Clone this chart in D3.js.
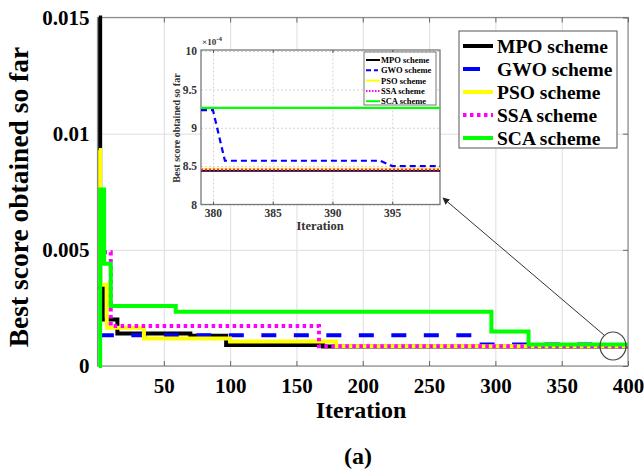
<!DOCTYPE html>
<html><head><meta charset="utf-8">
<script src="https://cdn.jsdelivr.net/npm/d3@7"></script>
<style>body{margin:0;background:#fff}svg{display:block}text{font-family:"Liberation Serif","Times New Roman",serif;font-weight:bold}</style>
</head><body>
<script>
// ---- data (main chart: [iteration, best score]) ----
const seriesNames = ["MPO scheme","GWO scheme","PSO scheme","SSA scheme","SCA scheme"];
const mpo = [[1,0.015],[2,0.0034],[4,0.0020],[15,0.00140],[70,0.00130],[97,0.00090],[170,0.000844],[400,0.000844]];
const gwo = [[1,0.00132],[285,0.000923],[381,0.000857],[395,0.000850],[400,0.000850]];
const pso = [[1,0.0093],[2,0.0035],[7,0.00165],[35,0.00118],[100,0.00105],[180,0.000846],[400,0.000846]];
const ssa = [[1,0.0053],[3,0.0049],[10,0.00172],[167,0.000845],[400,0.000845]];
const sca = [[1,0],[2,0.0076],[5,0.0044],[10,0.00258],[59,0.00234],[297,0.00148],[325,0.000926],[400,0.000926]];
const xTicks = [50,100,150,200,250,300,350,400];
const yTicks = [0,0.005,0.01,0.015];
const yTickLabels = ["0","0.005","0.01","0.015"];
// ---- inset data (x1e-4) ----
const inMpo = [[379,8.44],[399,8.44]];
const inGwo = [[379,9.23],[380,9.23],[381,8.57],[394,8.57],[395,8.50],[399,8.50]];
const inPso = [[379,8.465],[399,8.465]];
const inSsa = [[379,8.455],[399,8.455]];
const inSca = [[379,9.26],[399,9.26]];
const inXTicks = [380,385,390,395];
const inYTicks = [8,8.5,9,9.5,10];
const inYTickLabels = ["8","8.5","9","9.5","10"];

const colors = ["#000000","#0000ff","#ffff00","#ff00ff","#00ff00"];
const dashes = [null,"15,17.5",null,"3.5,3.5",null];

const W=644,H=475;
const svg=d3.select("body").append("svg").attr("width",W).attr("height",H);

// main scales
const x=d3.scaleLinear().domain([0,400]).range([97.5,628]);
const y=d3.scaleLinear().domain([0,0.015]).range([366,17.5]);

const g=svg.append("g");
// grid
g.append("g").attr("transform","translate(0,366)")
 .call(d3.axisBottom(x).tickValues(xTicks).tickSize(-(366-17.5)).tickFormat(""))
 .call(s=>{s.select(".domain").remove();s.selectAll("line").attr("stroke","#dedede").attr("stroke-width",1);});
g.append("g").attr("transform","translate(97.5,0)")
 .call(d3.axisLeft(y).tickValues(yTicks).tickSize(-(628-97.5)).tickFormat(""))
 .call(s=>{s.select(".domain").remove();s.selectAll("line").attr("stroke","#dedede").attr("stroke-width",1);});
// frame
g.append("rect").attr("x",97.5).attr("y",17.5).attr("width",628-97.5).attr("height",366-17.5)
 .attr("fill","none").attr("stroke","#8c8c8c").attr("stroke-width",1.2);
// inward tick marks
g.append("g").attr("transform","translate(0,366)").call(d3.axisTop(x).tickValues(xTicks).tickSize(5).tickFormat(""))
 .call(s=>{s.select(".domain").remove();s.selectAll("line").attr("stroke","#666");});
g.append("g").attr("transform","translate(0,17.5)").call(d3.axisBottom(x).tickValues(xTicks).tickSize(5).tickFormat(""))
 .call(s=>{s.select(".domain").remove();s.selectAll("line").attr("stroke","#666");});
g.append("g").attr("transform","translate(628,0)").call(d3.axisLeft(y).tickValues(yTicks).tickSize(5).tickFormat(""))
 .call(s=>{s.select(".domain").remove();s.selectAll("line").attr("stroke","#666");});
// tick labels
g.append("g").attr("transform","translate(0,366)")
 .call(d3.axisBottom(x).tickValues(xTicks).tickSize(0).tickPadding(12))
 .call(s=>{s.select(".domain").remove();s.selectAll("text").attr("font-size",21).attr("font-family","Liberation Serif").attr("font-weight","bold").attr("fill","#000");});
g.append("g").attr("transform","translate(97.5,0)")
 .call(d3.axisLeft(y).tickValues(yTicks).tickSize(0).tickPadding(8).tickFormat((d,i)=>yTickLabels[i]))
 .call(s=>{s.select(".domain").remove();s.selectAll("text").attr("font-size",21).attr("font-family","Liberation Serif").attr("font-weight","bold").attr("fill","#000");});

// lines
const line=d3.line().x(d=>x(d[0])).y(d=>y(d[1])).curve(d3.curveStepAfter);
[mpo,gwo,pso,ssa,sca].forEach((s,i)=>{
  const p=g.append("path").datum(s).attr("d",line).attr("fill","none")
   .attr("stroke",colors[i]).attr("stroke-width",4);
  if(dashes[i]) p.attr("stroke-dasharray",dashes[i]);
});

// axis titles
svg.append("text").attr("transform","translate(28,197) rotate(-90)").attr("text-anchor","middle")
 .attr("font-size",27.5).text("Best score obtained so far");
svg.append("text").attr("x",361).attr("y",418).attr("text-anchor","middle").attr("font-size",24).text("Iteration");
svg.append("text").attr("x",358).attr("y",464).attr("text-anchor","middle").attr("font-size",24).text("(a)");

// main legend
const lg=svg.append("g");
lg.append("rect").attr("x",459).attr("y",31).attr("width",158).attr("height",117).attr("fill","#fff").attr("stroke","#555").attr("stroke-width",1);
seriesNames.forEach((n,i)=>{
  const yy=46+i*23;
  const l=lg.append("line").attr("x1",463).attr("x2",i===1?480:493).attr("y1",yy).attr("y2",yy)
    .attr("stroke",colors[i]).attr("stroke-width",4);
  if(i===3) l.attr("stroke-dasharray","3.5,3.5");
  lg.append("text").attr("x",497).attr("y",yy+7).attr("font-size",19.5).text(n);
});

// ---- inset ----
const ix=d3.scaleLinear().domain([379,399]).range([201,440]);
const iy=d3.scaleLinear().domain([8,10]).range([204.5,51]);
const ig=svg.append("g");
ig.append("rect").attr("x",201).attr("y",50).attr("width",239).attr("height",154.5).attr("fill","#fff");
ig.append("g").attr("transform","translate(0,204.5)")
 .call(d3.axisBottom(ix).tickValues(inXTicks).tickSize(-154.5).tickFormat(""))
 .call(s=>{s.select(".domain").remove();s.selectAll("line").attr("stroke","#d4d4d4").attr("stroke-dasharray","2,2");});
ig.append("g").attr("transform","translate(201,0)")
 .call(d3.axisLeft(iy).tickValues(inYTicks).tickSize(-239).tickFormat(""))
 .call(s=>{s.select(".domain").remove();s.selectAll("line").attr("stroke","#d4d4d4").attr("stroke-dasharray","2,2");});
ig.append("rect").attr("x",201).attr("y",50).attr("width",239).attr("height",154.5).attr("fill","none").attr("stroke","#777").attr("stroke-width",1.3);
ig.append("g").attr("transform","translate(0,50)").call(d3.axisBottom(ix).tickValues(inXTicks).tickSize(3).tickFormat(""))
 .call(s=>{s.select(".domain").remove();s.selectAll("line").attr("stroke","#555");});
ig.append("g").attr("transform","translate(0,204.5)").call(d3.axisTop(ix).tickValues(inXTicks).tickSize(3).tickFormat(""))
 .call(s=>{s.select(".domain").remove();s.selectAll("line").attr("stroke","#555");});
ig.append("g").attr("transform","translate(0,204.5)")
 .call(d3.axisBottom(ix).tickValues(inXTicks).tickSize(0).tickPadding(4))
 .call(s=>{s.select(".domain").remove();s.selectAll("text").attr("font-size",11.5).attr("font-family","Liberation Serif").attr("font-weight","bold").attr("fill","#333");});
ig.append("g").attr("transform","translate(201,0)")
 .call(d3.axisLeft(iy).tickValues(inYTicks).tickSize(0).tickPadding(4).tickFormat((d,i)=>inYTickLabels[i]))
 .call(s=>{s.select(".domain").remove();s.selectAll("text").attr("font-size",11.5).attr("font-family","Liberation Serif").attr("font-weight","bold").attr("fill","#333");});
const iline=d3.line().x(d=>ix(d[0])).y(d=>iy(d[1]));
[inMpo,inGwo,inPso,inSsa,inSca].forEach((s,i)=>{
  const p=ig.append("path").datum(s).attr("d",iline).attr("fill","none")
   .attr("stroke",colors[i]).attr("stroke-width",2.2);
  if(i===1) p.attr("stroke-dasharray","6,4");
  if(i===3) p.attr("stroke-dasharray","2,2");
});
ig.append("text").attr("x",202).attr("y",45).attr("font-size",9).attr("fill","#333").text("×10").append("tspan").attr("dy",-4).attr("font-size",7).text("-4");
ig.append("text").attr("transform","translate(180,128) rotate(-90)").attr("text-anchor","middle").attr("font-size",10).attr("fill","#333").text("Best score obtained so far");
ig.append("text").attr("x",320).attr("y",230).attr("text-anchor","middle").attr("font-size",12.5).attr("fill","#333").text("Iteration");
// inset legend
ig.append("rect").attr("x",364).attr("y",52).attr("width",72).attr("height",53).attr("fill","#fff").attr("stroke","#555").attr("stroke-width",0.8);
seriesNames.forEach((n,i)=>{
  const yy=60+i*10.3;
  const l=ig.append("line").attr("x1",366).attr("x2",i===1?378:380).attr("y1",yy).attr("y2",yy)
    .attr("stroke",colors[i]).attr("stroke-width",2);
  if(i===1) l.attr("stroke-dasharray","5,3");
  if(i===3) l.attr("stroke-dasharray","1.5,1.5");
  ig.append("text").attr("x",381).attr("y",yy+3).attr("font-size",8.5).text(n);
});

// zoom marker & arrow
svg.append("defs").append("marker").attr("id","ah").attr("viewBox","0 0 10 10").attr("refX",9).attr("refY",5)
 .attr("markerWidth",7).attr("markerHeight",7).attr("orient","auto")
 .append("path").attr("d","M0,0L10,5L0,10z").attr("fill","#222");
svg.append("ellipse").attr("cx",613).attr("cy",346).attr("rx",13).attr("ry",14).attr("fill","none").attr("stroke","#444").attr("stroke-width",1.2);
svg.append("line").attr("x1",604).attr("y1",335).attr("x2",443).attr("y2",198).attr("stroke","#333").attr("stroke-width",1).attr("marker-end","url(#ah)");
</script>
</body></html>
